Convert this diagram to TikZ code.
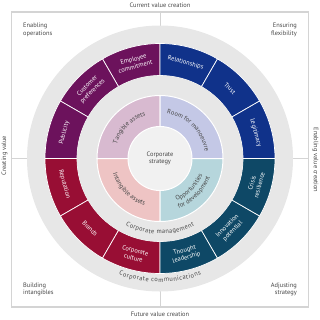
\documentclass[tikz,border=0pt]{standalone}
\usepackage{fontspec}
\setmainfont{PT Sans}
\usepackage{tikz}
\usetikzlibrary{decorations.text}

\newcommand{\diagfont}{\fontsize{6.4}{7.6}\selectfont}

\begin{document}
\begin{tikzpicture}[x=1pt, y=1pt,
			txt/.style={font=\diagfont, text=textgray, align=center, inner sep=0pt},
			seglabel/.style={txt, text=white, rotate=#1},
			sector/.style={fill=#1, draw=white, line width=0.7pt},
			arclabel/.style={decorate, decoration={text along path, text align=center, text color=textgray, text={|\diagfont|#1}}},
			ringlabel/.style={decorate, decoration={text along path, text align=fit to path, text color=textgray, text={|\diagfont|#1}}}
			]
			
			% Define colors
			\definecolor{textgray}{RGB}{70,70,70}
			\definecolor{framegray}{RGB}{212,212,212}
			\definecolor{ringgray}{RGB}{231,231,231}
			\definecolor{centergray}{RGB}{241,241,241}
			\definecolor{opspurple}{RGB}{108,18,92}
			\definecolor{flexblue}{RGB}{16,50,138}
			\definecolor{intangred}{RGB}{152,14,52}
			\definecolor{adjustteal}{RGB}{14,72,102}
			\definecolor{tangiblepink}{RGB}{216,186,208}
			\definecolor{roomblue}{RGB}{196,200,230}
			\definecolor{intangiblepink}{RGB}{238,196,196}
			\definecolor{opportteal}{RGB}{182,214,220}
			
			\useasboundingbox (-160,-160.5) rectangle (160,158.5);
			
			% 1. Frame and axes
			\draw[framegray, line width=1.2pt] (-148.5,-148.5) rectangle (148.5,146.5);
			\draw[framegray, line width=0.5pt] (-148.5,0) -- (148.5,0) (0,-148.5) -- (0,146.5);
			
			% 2. Outer ring (corporate communications)
			\fill[ringgray] (0,0) circle (133);
			
			% 3. Coloured band, three segments per quadrant
			\foreach \a/\col/\lbl in {
				105/opspurple/{Employee\\commitment}, 135/opspurple/{Customer\\preferences}, 165/opspurple/Publicity,
				75/flexblue/Relationships, 45/flexblue/Trust, 15/flexblue/Legitimacy,
				195/intangred/Reputation, 225/intangred/Brands, 255/intangred/{Corporate\\culture},
				285/adjustteal/{Thought\\leadership}, 315/adjustteal/{Innovation\\potential}, 345/adjustteal/{Crisis\\resilience}} {
				\pgfmathsetmacro{\rot}{\a<180 ? \a-90 : \a+90}
				\filldraw[sector=\col] ({\a-15}:115) arc[start angle=\a-15, end angle=\a+15, radius=115]
				-- ({\a+15}:83) arc[start angle=\a+15, end angle=\a-15, radius=83] -- cycle;
				\node[seglabel=\rot] (seg\a) at (\a:99) {\lbl};
			}
			
			% 4. Middle ring (corporate management)
			\fill[ringgray] (0,0) circle (83);
			
			% 5. Inner quadrants
			\foreach \a/\col in {90/tangiblepink, 0/roomblue, 180/intangiblepink, 270/opportteal} {
				\filldraw[sector=\col, line width=1pt] (0,0) -- (\a:63) arc[start angle=\a, end angle=\a+90, radius=63] -- cycle;
			}
			\path[arclabel={Tangible assets}] (175:45.5) arc[start angle=175, end angle=95, radius=45.5];
			\path[arclabel={Room for manoeuvre}] (88:45.5) arc[start angle=88, end angle=2, radius=45.5];
			\path[arclabel={Intangible assets}] (185:49.5) arc[start angle=185, end angle=265, radius=49.5];
			\path[arclabel={Opportunities}] (275:45.5) arc[start angle=275, end angle=355, radius=45.5];
			\path[arclabel={for development}] (272:53.5) arc[start angle=272, end angle=358, radius=53.5];
			
			% 6. Centre
			\filldraw[fill=centergray, draw=white, line width=1pt] (0,0) circle (32);
			\node[txt] (core) at (0,0) {Corporate\\strategy};
			
			% Ring labels
			\path[ringlabel={Corporate management}] (243:75.5) arc[start angle=243, end angle=297, radius=75.5];
			\path[ringlabel={Corporate communications}] (250.5:123.5) arc[start angle=250.5, end angle=289.5, radius=123.5];
			
			% 7. Axis and corner labels
			\node[txt] (current) at (0,153.5) {Current value creation};
			\node[txt] (future) at (0,-155.5) {Future value creation};
			\node[txt, rotate=90] (creating) at (-155.5,3) {Creating value};
			\node[txt, rotate=-90] (enabling) at (155.5,-1.5) {Enabling value creation};
			\node[txt, anchor=north west, align=left] (ops) at (-137,135.5) {Enabling\\operations};
			\node[txt, anchor=north east, align=right] (flex) at (137,135.5) {Ensuring\\flexibility};
			\node[txt, anchor=south west, align=left] (build) at (-137,-138) {Building\\intangibles};
			\node[txt, anchor=south east, align=right] (adjust) at (137,-138) {Adjusting\\strategy};
			
		\end{tikzpicture}
\end{document}
